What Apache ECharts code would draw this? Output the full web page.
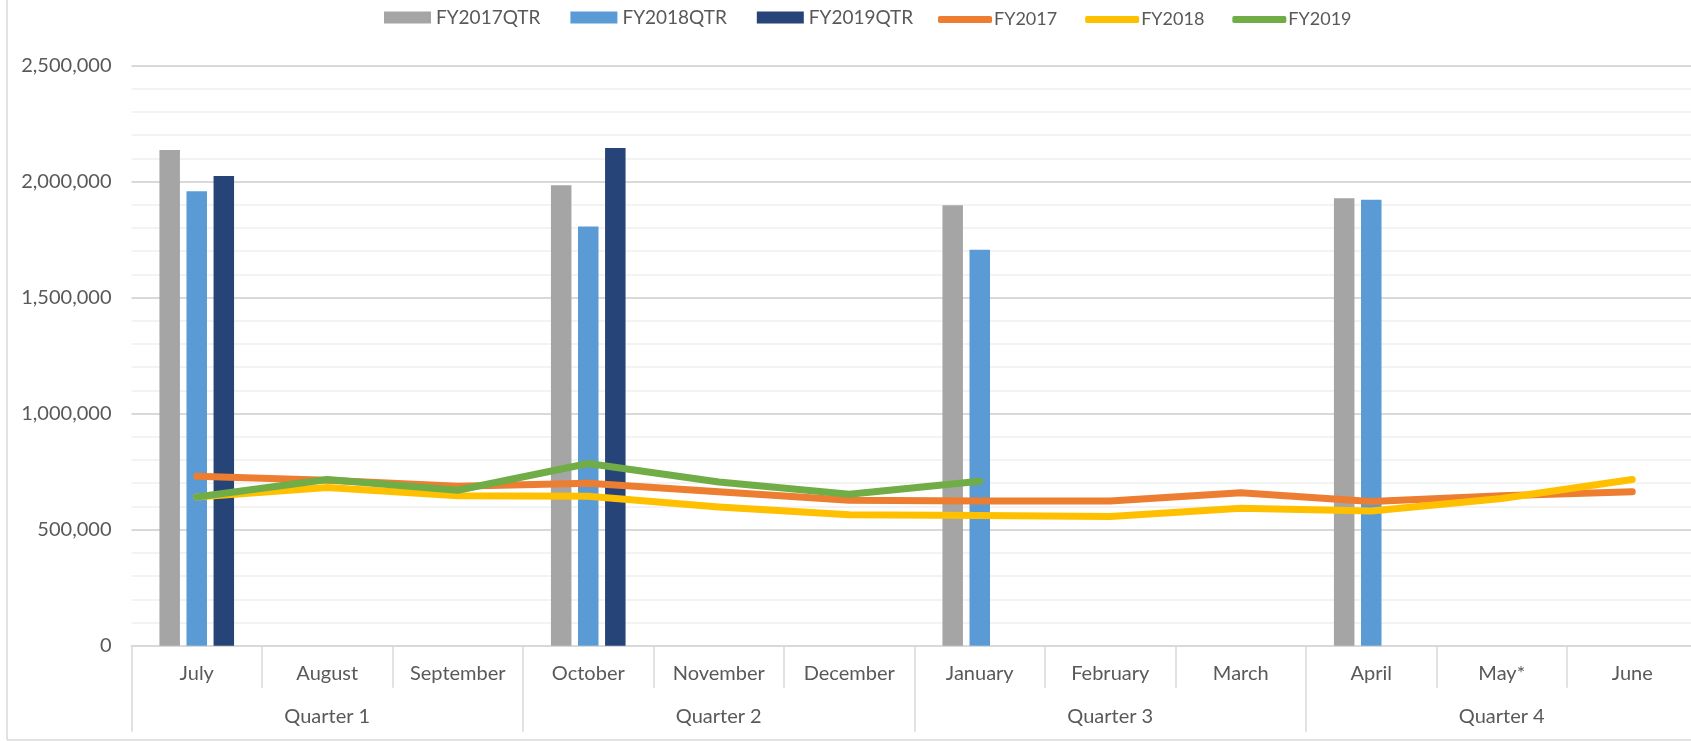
<!DOCTYPE html>
<html>
<head>
<meta charset="utf-8">
<script src="https://cdn.jsdelivr.net/npm/echarts@6/dist/echarts.min.js"></script>
<style>
html,body{margin:0;padding:0;background:#fff;}
#chart{width:1691px;height:741px;}
</style>
</head>
<body>
<div id="chart"></div>
<script>
const months = ['July','August','September','October','November','December','January','February','March','April','May*','June'];
const quarters = ['Quarter 1','Quarter 2','Quarter 3','Quarter 4'];
const fy2017qtr = [2136000,null,null,1984000,null,null,1898000,null,null,1928000,null,null];
const fy2018qtr = [1958000,null,null,1806000,null,null,1706000,null,null,1922000,null,null];
const fy2019qtr = [2024000,null,null,2145000,null,null,null,null,null,null,null,null];
const fy2017 = [730000,713000,687000,700000,663000,627000,623000,624000,659000,621000,646000,663000];
const fy2018 = [641000,682000,646000,644000,598000,564000,561000,557000,592000,580000,634000,716000];
const fy2019 = [641000,716000,670000,785000,705000,653000,709000,null,null,null,null,null];
const yTicks = [0,500000,1000000,1500000,2000000,2500000];

const FONT = 'Lato';
const TXT = '#595959';
const chart = echarts.init(document.getElementById('chart'));
const barNames = ['FY2017QTR','FY2018QTR','FY2019QTR'];
const lineNames = ['FY2017','FY2018','FY2019'];
const barColors = ['#A5A5A5','#5B9BD5','#264478'];
const lineColors = ['#ED7D31','#FFC000','#70AD47'];
const barData = [fy2017qtr, fy2018qtr, fy2019qtr];
const lineData = [fy2017, fy2018, fy2019];

const series = [];
barNames.forEach((n,i)=>series.push({
  name:n, type:'bar', data:barData[i], barWidth:20.5, barGap:'32%',
  itemStyle:{color:barColors[i]}, xAxisIndex:0, yAxisIndex:0
}));
lineNames.forEach((n,i)=>series.push({
  name:n, type:'line', data:lineData[i], symbol:'none', showSymbol:false,
  connectNulls:false, xAxisIndex:0, yAxisIndex:0,
  lineStyle:{color:lineColors[i], width:7, cap:'round', join:'round'},
  itemStyle:{color:lineColors[i]}
}));

chart.setOption({
  animation:false,
  backgroundColor:'#fff',
  textStyle:{fontFamily:FONT},
  legend:[{
    left:384, top:8, padding:0, itemWidth:47, itemHeight:12, itemGap:30,
    data:barNames.map(n=>({name:n, icon:'rect'})),
    textStyle:{fontFamily:FONT, fontSize:19, color:TXT}
  },{
    left:938, top:10.5, padding:0, itemWidth:54, itemHeight:7, itemGap:28,
    data:lineNames.map(n=>({name:n, icon:'roundRect'})),
    textStyle:{fontFamily:FONT, fontSize:18, color:TXT, padding:[0,0,0,-3]}
  }],
  grid:{left:131.5, right:-6.5, top:65.5, bottom:95.3, containLabel:false, outerBoundsMode:'none'},
  xAxis:[{
    type:'category', data:months, position:'bottom',
    axisLine:{show:true, lineStyle:{color:'#d9d9d9', width:2}},
    axisTick:{show:true, length:42, lineStyle:{color:'#d9d9d9', width:1.5}},
    axisLabel:{fontFamily:FONT, fontSize:20, color:TXT, margin:28.3, verticalAlign:'middle', interval:0}
  },{
    type:'category', data:quarters, position:'bottom', gridIndex:0,
    axisLine:{show:false},
    axisTick:{show:true, length:86, lineStyle:{color:'#d9d9d9', width:1.5}},
    axisLabel:{fontFamily:FONT, fontSize:20, color:TXT, margin:71, verticalAlign:'middle', interval:0}
  }],
  yAxis:{
    type:'value', min:yTicks[0], max:yTicks[yTicks.length-1], interval:500000,
    axisLine:{show:false}, axisTick:{show:false},
    axisLabel:{fontFamily:FONT, fontSize:20, color:TXT, margin:20,
      formatter:v=>v.toString().replace(/\B(?=(\d{3})+(?!\d))/g, ',')},
    splitLine:{show:true, lineStyle:{color:'#d9d9d9', width:2}},
    minorTick:{show:false, splitNumber:5},
    minorSplitLine:{show:true, lineStyle:{color:'#f0f0f0', width:1.5}}
  },
  graphic:[
    {type:'line', shape:{x1:7, y1:0, x2:7, y2:740}, style:{stroke:'#d9d9d9', lineWidth:1.5}, silent:true},
    {type:'line', shape:{x1:7, y1:740, x2:1691, y2:740}, style:{stroke:'#d9d9d9', lineWidth:1.5}, silent:true}
  ],
  series:series
});
</script>
</body>
</html>
